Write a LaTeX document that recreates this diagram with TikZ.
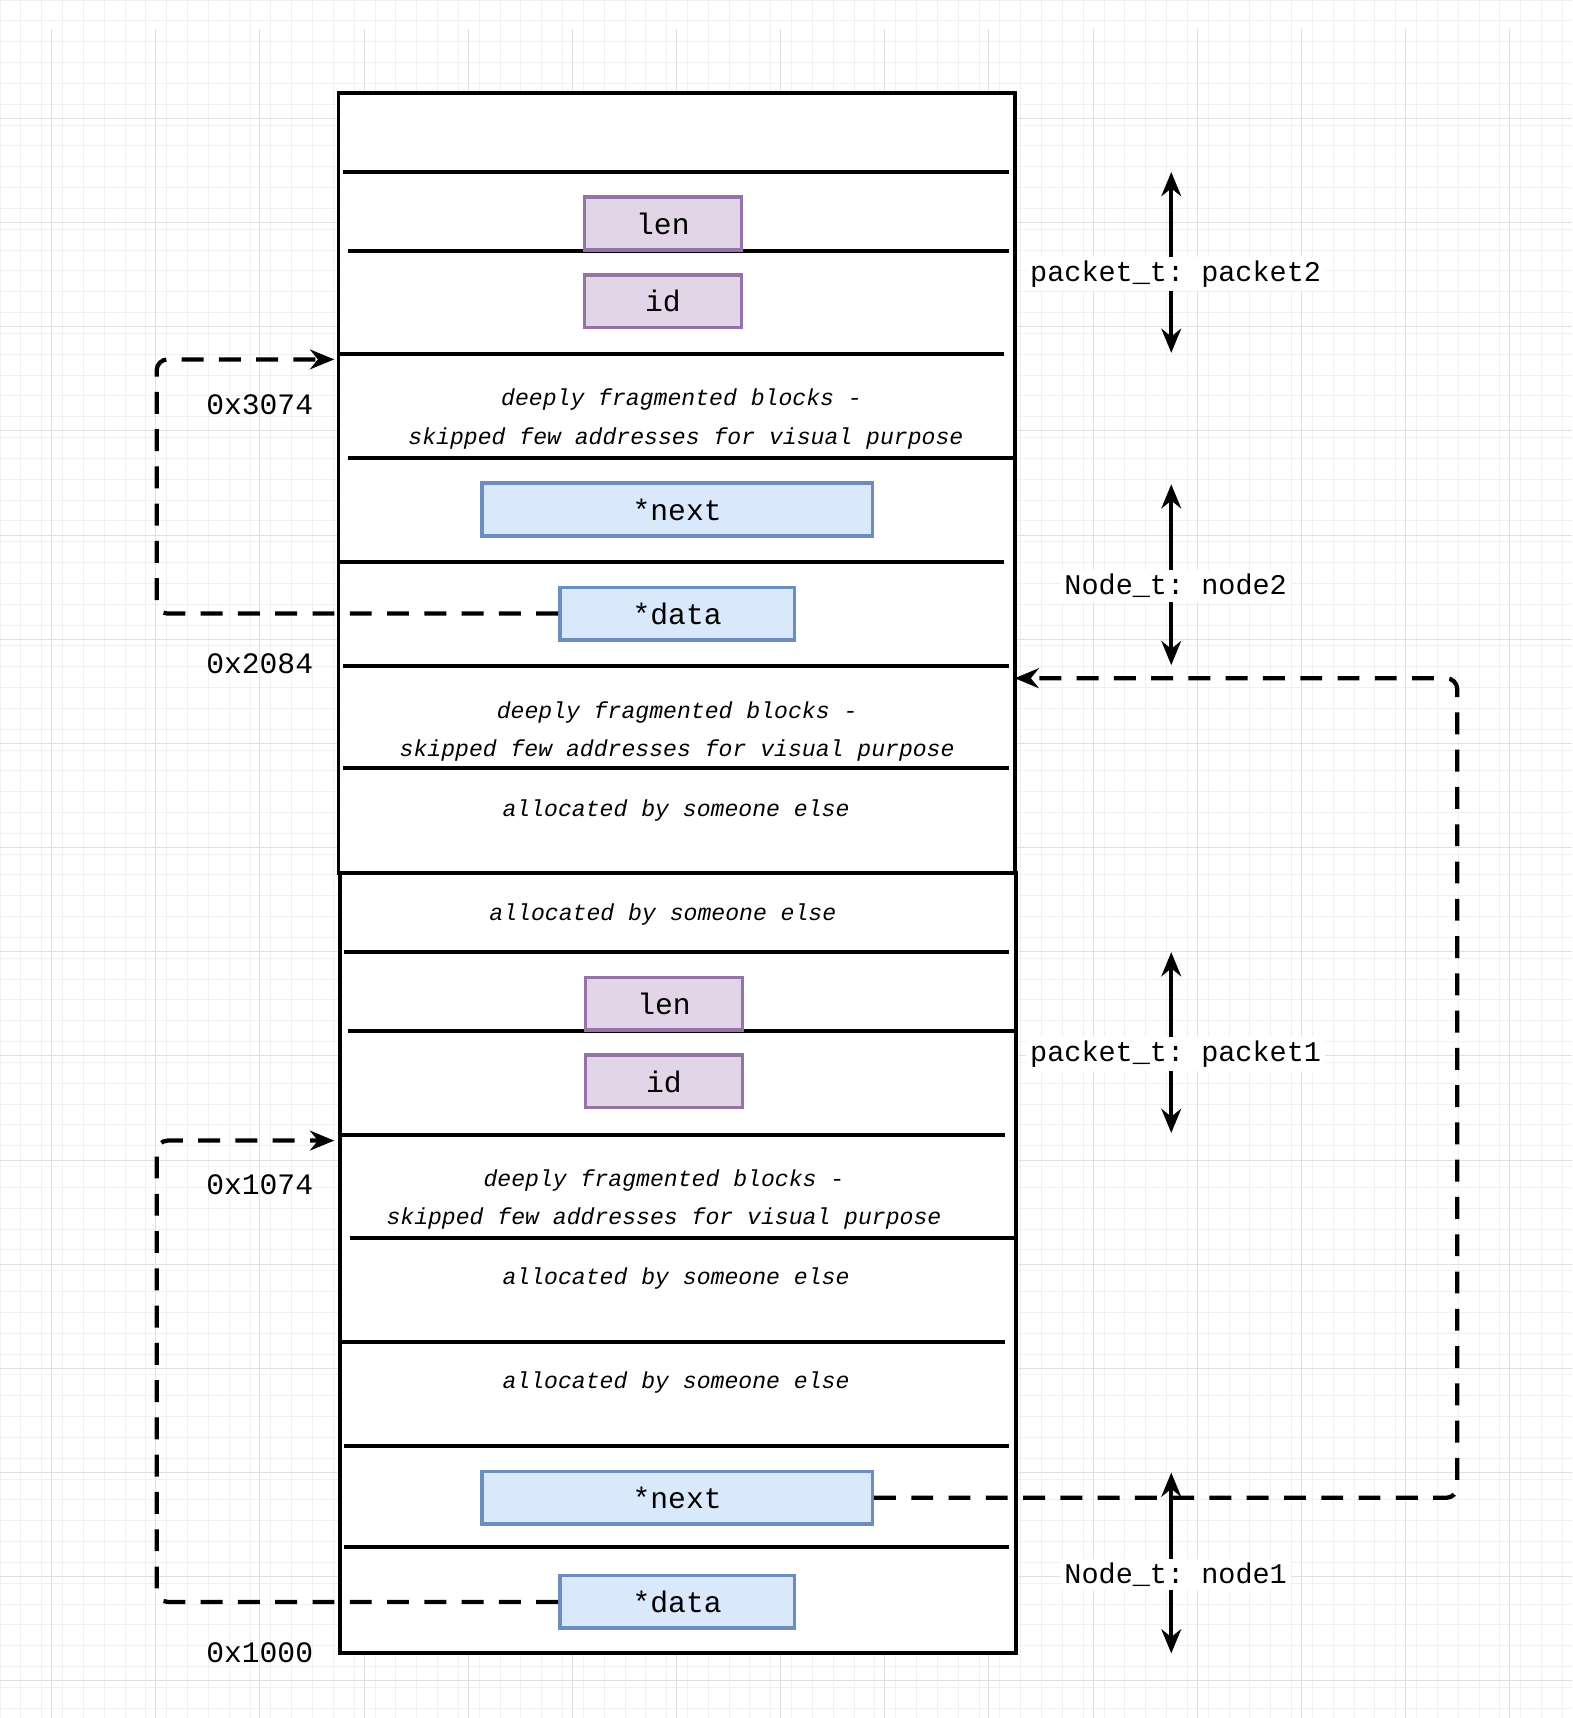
\documentclass[tikz,border=0pt]{standalone}
\usepackage{fontspec}
\setmonofont{Liberation Mono}
\usetikzlibrary{positioning}
\usetikzlibrary{arrows.meta}

\definecolor{infill}{RGB}{225,213,231}
\definecolor{indraw}{RGB}{150,115,166}
\definecolor{ptrfill}{RGB}{218,232,252}
\definecolor{ptrdraw}{RGB}{108,142,191}

\tikzset{
 field/.style={line width=0.9pt,minimum height=0.48cm,inner sep=0pt,font=\ttfamily\fontsize{7.7}{9}\selectfont},
 infield/.style={field,fill=infill,draw=indraw},
 ptrfield/.style={field,fill=ptrfill,draw=ptrdraw},
 note/.style={font=\ttfamily\itshape\fontsize{6}{7}\selectfont},
 addr/.style={font=\ttfamily\fontsize{7.7}{9}\selectfont},
 tag/.style={font=\ttfamily\fontsize{7.4}{9}\selectfont,fill=white,inner sep=1pt},
 link/.style={dash pattern=on 0.2cm off 0.14cm,line width=1.1pt,rounded corners=0.1cm,-{Stealth[length=0.22cm,width=0.18cm]}},
 span/.style={line width=1pt,{Stealth[length=0.22cm,width=0.18cm]}-{Stealth[length=0.22cm,width=0.18cm]}}
}

\begin{document}
\begin{tikzpicture}[x=0.01cm,y=-0.01cm]
 \useasboundingbox (0,0) rectangle (1435,1568);
 % background grid
 \draw[step=0.19cm,black!6,very thin](0,0) grid (1435,1568);
 \draw[step=0.95cm,black!12,very thin,shift={(0.47cm,-0.13cm)}](-47,13) grid (1388,1555);
 % memory blocks
 \draw[line width=1pt,fill=white](309,85) rectangle (926,797);
 \draw[line width=1pt,fill=white](310,797) rectangle (927,1509);
 \foreach \y/\a/\b in {157/313/921,229/318/921,323/308/916,418/318/926,513/308/916,608/313/921,701/313/921,
   869/314/921,941/318/926,1036/310/917,1130/319/926,1225/310/917,1320/314/921,1412/314/921}
   \draw[line width=1pt](\a,\y)--(\b,\y);
 % fields
 \node[infield,minimum width=1.43cm] (len2) at (605,204) {len};
 \node[infield,minimum width=1.43cm] (id2) at (605,275) {id};
 \node[ptrfield,minimum width=3.56cm] (next2) at (618,465) {*next};
 \node[ptrfield,minimum width=2.14cm] (data2) at (618,560) {*data};
 \node[infield,minimum width=1.43cm] (len1) at (606,916) {len};
 \node[infield,minimum width=1.43cm] (id1) at (606,987) {id};
 \node[ptrfield,minimum width=3.56cm] (next1) at (618,1367) {*next};
 \node[ptrfield,minimum width=2.14cm] (data1) at (618,1462) {*data};
 % notes
 \node[note] at (622,365) {deeply fragmented blocks -};
 \node[note] at (626,400) {skipped few addresses for visual purpose};
 \node[note] at (618,650) {deeply fragmented blocks -};
 \node[note] at (618,685) {skipped few addresses for visual purpose};
 \node[note] at (617,740) {allocated by someone else};
 \node[note] at (605,835) {allocated by someone else};
 \node[note] at (606,1077) {deeply fragmented blocks -};
 \node[note] at (606,1112) {skipped few addresses for visual purpose};
 \node[note] at (617,1167) {allocated by someone else};
 \node[note] at (617,1262) {allocated by someone else};
 % addresses
 \node[addr] (a3074) at (237,369) {0x3074};
 \node[addr] (a2084) at (237,606) {0x2084};
 \node[addr] (a1074) at (237,1081) {0x1074};
 \node[addr] (a1000) at (237,1508) {0x1000};
 % sizes
 \draw[span](1069,157)--(1069,322);
 \draw[span](1069,442)--(1069,607);
 \draw[span](1069,869)--(1069,1034);
 \draw[span](1069,1344)--(1069,1509);
 \node[tag] (pk2) at (1073,250) {packet\_t: packet2};
 \node[tag] (nd2) at (1073,535) {Node\_t: node2};
 \node[tag] (pk1) at (1073,962) {packet\_t: packet1};
 \node[tag] (nd1) at (1073,1437) {Node\_t: node1};
 % pointers
 \coordinate (p2) at (305,328);
 \coordinate (p1) at (305,1041);
 \coordinate (n2) at (926,619);
 \draw[link](data2.west)-|(143,328)--(p2);
 \draw[link](data1.west)-|(143,1041)--(p1);
 \draw[link](next1.east)-|(1330,619)--(n2);
\end{tikzpicture}
\end{document}
